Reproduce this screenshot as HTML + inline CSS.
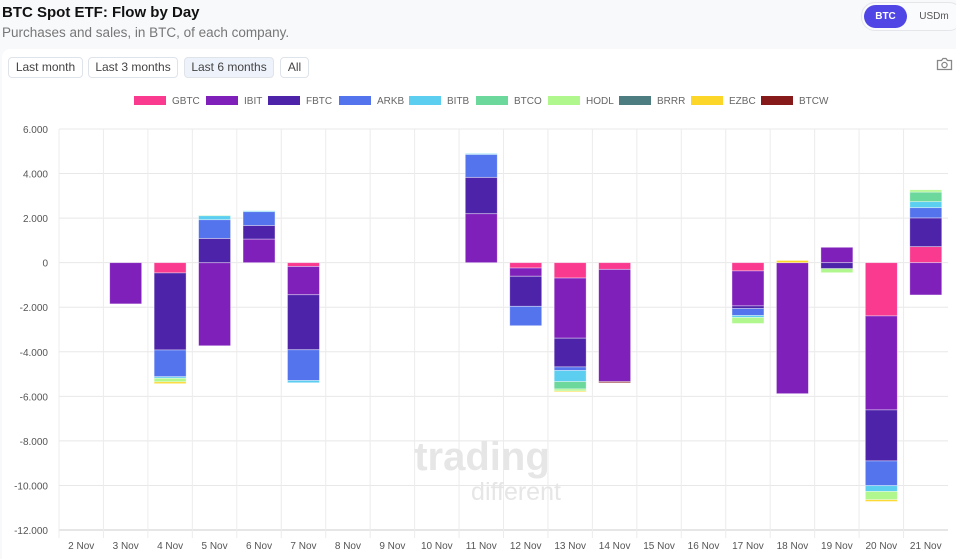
<!DOCTYPE html>
<html><head><meta charset="utf-8"><style>
body{margin:0;width:956px;height:551px;background:#f8f9fb;font-family:"Liberation Sans",sans-serif;position:relative;overflow:hidden}
.t{position:absolute;left:2px;top:4px;font-size:15px;font-weight:bold;color:#111}
.s{position:absolute;left:2px;top:25px;font-size:13.5px;color:#777}
.card{position:absolute;left:2px;top:49px;width:960px;height:510px;background:#fff;border-radius:8px 0 0 0}
.btn{position:absolute;top:57px;height:19px;border:1px solid #dfe3ea;border-radius:4px;font-size:12px;color:#444;line-height:19px;text-align:center;background:#fff}
.pill{position:absolute;left:861px;top:2px;width:100px;height:27px;border:1px solid #e4e6ea;border-radius:14px;background:#fafbfc}
</style></head><body>
<div class="t">BTC Spot ETF: Flow by Day</div>
<div class="s">Purchases and sales, in BTC, of each company.</div>
<div class="pill">
<div style="position:absolute;left:2px;top:2px;width:43px;height:23px;border-radius:12px;background:#4f46e5;color:#fff;font-size:10px;font-weight:bold;line-height:23px;text-align:center">BTC</div>
<div style="position:absolute;left:52px;top:2px;width:40px;height:23px;color:#555;font-size:10px;line-height:23px;text-align:center">USDm</div></div>
<div class="card"></div>
<div class="btn" style="left:8px;width:73px">Last month</div>
<div class="btn" style="left:88px;width:88px">Last 3 months</div>
<div class="btn" style="left:184px;width:88px;background:#eef2fa">Last 6 months</div>
<div class="btn" style="left:280px;width:27px">All</div>
<svg style="position:absolute;left:936px;top:56px" width="17" height="16" viewBox="0 0 17 16"><path d="M1.5 4.5h4l1.5-2h3l1.5 2h4v9h-14z" fill="none" stroke="#888" stroke-width="1.3"/><circle cx="8.5" cy="9" r="2.6" fill="none" stroke="#888" stroke-width="1.3"/></svg>
<svg id="chart" style="position:absolute;left:0;top:0" width="956" height="551"></svg>
<script>
const categories=["2 Nov","3 Nov","4 Nov","5 Nov","6 Nov","7 Nov","8 Nov","9 Nov","10 Nov","11 Nov","12 Nov","13 Nov","14 Nov","15 Nov","16 Nov","17 Nov","18 Nov","19 Nov","20 Nov","21 Nov"];
const seriesNames=["GBTC","IBIT","FBTC","ARKB","BITB","BTCO","HODL","BRRR","EZBC","BTCW"];
const seriesColors=["#f93a8f","#7f20bb","#4c23a9","#5474ee","#5ccff0","#6cd89b","#b0f78e","#4d7d80","#fcd72a","#861a1a"];
const GBTC=[0,0,-460,0,0,-170,0,0,0,0,-240,-690,-300,0,0,-370,0,0,-2390,720];
const IBIT=[0,-1850,0,-3730,1060,-1270,0,0,0,2200,-370,-2700,-5040,0,0,-1570,-5880,690,-4220,-1450];
const FBTC=[0,0,-3460,1090,610,-2470,0,0,0,1630,-1350,-1290,0,0,0,-120,0,-270,-2290,1290];
const ARKB=[0,0,-1200,840,620,-1380,0,0,0,1030,-870,-160,0,0,0,-310,0,0,-1110,460];
const BITB=[0,0,-70,180,40,-100,0,0,0,40,0,-500,0,0,0,-90,0,0,-260,270];
const BTCO=[0,0,0,15,0,0,0,0,0,0,0,-330,0,0,0,0,0,0,0,430];
const HODL=[0,0,-160,15,0,0,0,0,0,0,0,-90,0,0,0,-270,0,-180,-370,100];
const BRRR=[0,0,0,0,0,0,0,0,0,0,0,0,0,0,0,0,0,0,0,0];
const EZBC=[0,0,-80,0,0,0,0,0,0,0,0,-40,0,0,0,0,100,0,-80,0];
const BTCW=[0,0,0,0,0,0,0,0,0,0,0,0,-50,0,0,0,0,0,0,0];
const yTicks=[6000,4000,2000,0,-2000,-4000,-6000,-8000,-10000,-12000];
const yTickLabels=["6.000","4.000","2.000","0","-2.000","-4.000","-6.000","-8.000","-10.000","-12.000"];
const series=[GBTC,IBIT,FBTC,ARKB,BITB,BTCO,HODL,BRRR,EZBC,BTCW];
const NS="http://www.w3.org/2000/svg",svg=document.getElementById("chart");
const L=59,R=948,T=129,B=530,yMax=6000,yMin=-12000;
const y=v=>T+(yMax-v)/(yMax-yMin)*(B-T);
const band=(R-L)/categories.length;
const x=i=>L+band*i+band/2;
function mk(tag,a){const e=document.createElementNS(NS,tag);for(const k in a)e.setAttribute(k,a[k]);svg.appendChild(e);return e;}
yTicks.forEach((t,i)=>{const g=mk("line",{x1:L,x2:R,y1:y(t),y2:y(t),stroke:i==yTicks.length-1?"#ccc":"#e8e8e8","stroke-width":1});


const tx=mk("text",{x:48,y:y(t)+4,"text-anchor":"end","font-size":10,fill:"#555"});tx.textContent=yTickLabels[i];

});
categories.forEach((c,i)=>{const g=mk("line",{x1:L+band*i,x2:L+band*i,y1:T,y2:B+8,stroke:"#ececec","stroke-width":1});


const tx=mk("text",{x:x(i),y:549,"text-anchor":"middle","font-size":10,fill:"#555"});tx.textContent=c;

});
const wm=mk("text",{x:482,y:470,"text-anchor":"middle","font-size":40,"font-weight":"bold",fill:"#e6e6e6"});wm.textContent="trading";


const wm2=mk("text",{x:516,y:500,"text-anchor":"middle","font-size":25,fill:"#e6e6e6"});wm2.textContent="different";


const bw=32;
categories.forEach((c,i)=>{let pos=0,neg=0;series.forEach((s,k)=>{const v=s[i];if(!v)return;let a,b;if(v>0){a=pos;b=pos+v;pos=b;}else{a=neg;b=neg+v;neg=b;}
const r=mk("rect",{x:x(i)-bw/2,y:Math.min(y(a),y(b)),width:bw,height:Math.abs(y(a)-y(b)),fill:seriesColors[k],stroke:"rgba(255,255,255,0.5)","stroke-width":0.8});

});});
const lx=[134,206,268,339,409,476,548,619,691,761];
seriesNames.forEach((n,k)=>{const r=mk("rect",{x:lx[k],y:96,width:32,height:9,fill:seriesColors[k]});


const tx=mk("text",{x:lx[k]+38,y:104,"font-size":10,fill:"#666"});tx.textContent=n;

});
</script>
</body></html>
